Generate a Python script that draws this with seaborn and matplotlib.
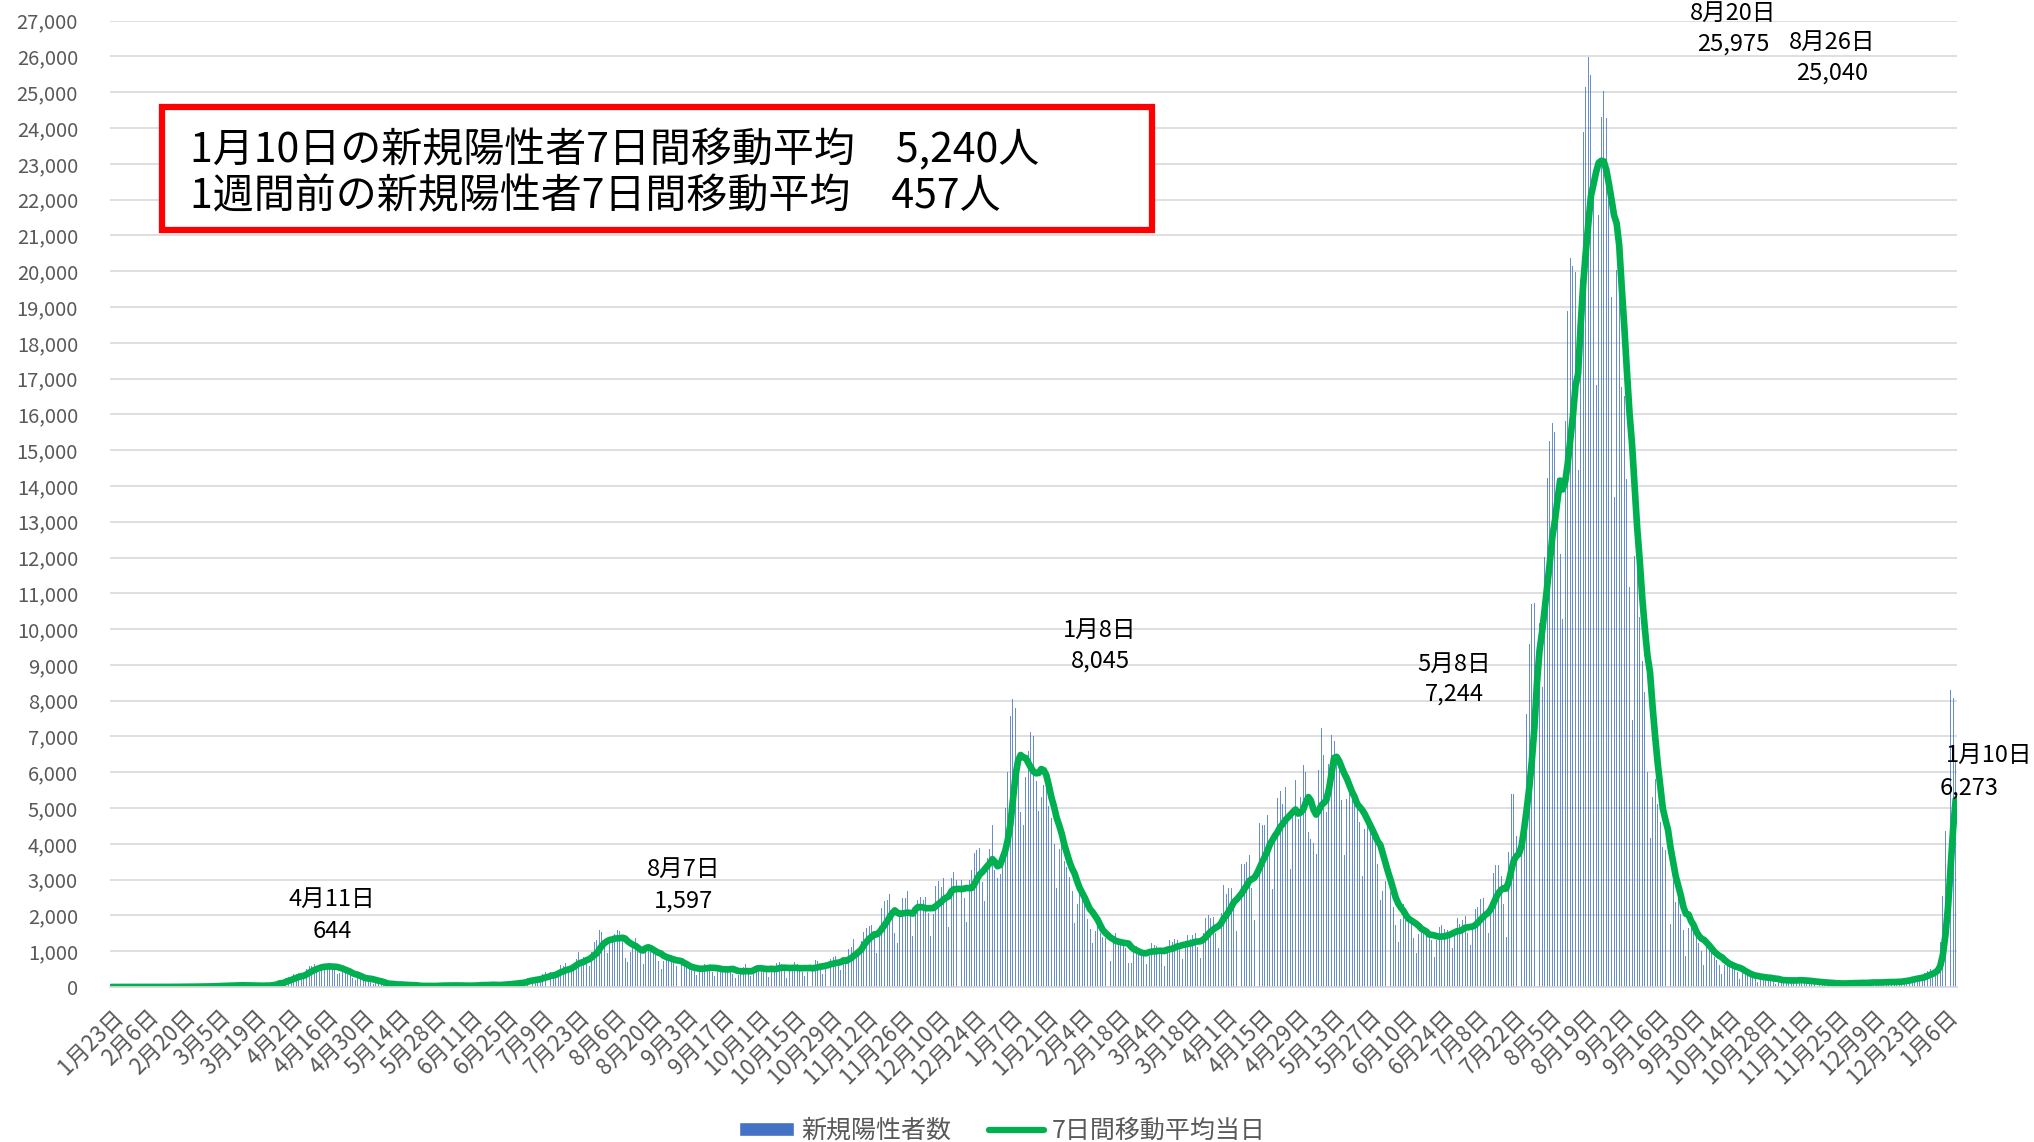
import numpy as np
import pandas as pd
import matplotlib
matplotlib.use("Agg")
import matplotlib.pyplot as plt
from matplotlib.patches import Patch, Rectangle
from matplotlib.lines import Line2D
from matplotlib.ticker import FuncFormatter, MultipleLocator
from matplotlib.transforms import ScaledTranslation
import seaborn as sns

# 全国の新規陽性者数（日別）2020/1/23 〜 2022/1/10
START = "2020-01-23"

jan20 = [0, 1, 0, 1, 0, 2, 1, 4, 2]
feb20 = [3, 0, 0, 2, 0, 0, 2, 0, 0, 1, 0, 0, 3, 8, 6, 7, 6, 7, 10, 12, 14, 9, 5, 3, 13, 16, 23, 21, 17]
mar20 = [14, 18, 16, 33, 31, 59, 43, 33, 26, 52, 54, 62, 40, 64, 21, 15, 44, 39, 36, 36, 43, 34, 38, 39, 65,
         96, 112, 200, 194, 78, 265]
apr20 = [266, 234, 351, 364, 380, 250, 357, 514, 577, 590, 644, 580, 420, 540, 600, 630, 620, 600, 560, 370,
         390, 450, 430, 440, 360, 250, 190, 270, 230, 200]
may20 = [220, 300, 200, 87, 123, 100, 95, 84, 106, 50, 69, 63, 55, 51, 99, 56, 32, 31, 33, 39, 33, 24, 24, 21,
         20, 43, 37, 30, 47, 46, 43]
jun20 = [33, 50, 45, 39, 47, 42, 38, 15, 41, 34, 40, 56, 45, 73, 71, 43, 41, 69, 71, 60, 57, 50, 54, 96, 105,
         105, 100, 110, 87, 130]
jul20 = [125, 196, 250, 274, 208, 180, 205, 205, 354, 430, 385, 408, 260, 330, 450, 622, 590, 661, 510, 419,
         631, 795, 981, 771, 839, 814, 598, 980, 1264, 1301, 1580]
aug20 = [1536, 1331, 958, 1236, 1356, 1485, 1597, 1568, 1442, 812, 702, 989, 1177, 1360, 1227, 1033, 640, 1168,
         1161, 1019, 1040, 933, 739, 495, 740, 923, 840, 889, 761, 574, 435]
sep20 = [626, 600, 594, 567, 530, 435, 331, 514, 600, 650, 620, 625, 420, 300, 470, 500, 547, 600, 590, 484,
         356, 248, 330, 480, 570, 640, 480, 310, 440, 608]
oct20 = [620, 560, 570, 420, 290, 500, 540, 660, 700, 650, 440, 260, 460, 560, 690, 650, 620, 430, 300, 430,
         620, 600, 750, 720, 560, 370, 530, 730, 790, 840, 870]
nov20 = [630, 480, 850, 640, 1050, 1110, 1330, 980, 940, 1280, 1540, 1660, 1700, 1730, 1440, 950, 1700, 2200,
         2390, 2420, 2590, 2170, 1520, 1240, 1950, 2500, 2500, 2680, 2060, 1430]
dec20 = [2030, 2430, 2510, 2440, 2510, 2060, 1430, 2050, 2810, 2970, 2790, 3040, 2390, 1680, 3040, 3210, 3000,
         2830, 2990, 2490, 1810, 2990, 3270, 3740, 3820, 3880, 2940, 2390, 3610, 3850, 4520]
jan21 = [3258, 3059, 3158, 3800, 5000, 6000, 7570, 8045, 7790, 6094, 4876, 4538, 5872, 6605, 7133, 7014, 5759,
         4925, 5320, 5650, 5624, 5044, 4716, 3990, 2764, 3850, 3960, 3530, 3340, 3060, 2670]
feb21 = [1790, 2320, 2630, 2570, 2370, 1900, 1630, 1220, 1570, 1880, 1520, 1410, 1360, 1170, 740, 1300, 1520,
         1380, 1300, 1240, 1100, 660, 670, 1080, 1150, 1070, 990, 1000]
mar21 = [640, 870, 1220, 1160, 1140, 1050, 990, 600, 1130, 1310, 1270, 1330, 1310, 1070, 780, 1220, 1460, 1340,
         1460, 1520, 1120, 820, 1520, 1920, 2000, 1920, 1950, 1500, 1100, 2060, 2850]
apr21 = [2600, 2760, 2760, 2480, 1570, 2650, 3450, 3440, 3490, 3700, 2780, 1880, 3450, 4570, 4530, 4530, 4800,
         4100, 2740, 4320, 5290, 5490, 5110, 5590, 4600, 3300, 4850, 5780, 4690, 5300]
may21 = [6200, 6000, 4330, 4140, 4020, 3730, 6050, 7244, 6480, 4890, 6240, 7050, 6860, 6260, 6420, 5220, 3690,
         5240, 5740, 5610, 5250, 5070, 4600, 3090, 4410, 4730, 4580, 4220, 4000, 3440, 2420]
jun21 = [2680, 2960, 2790, 2660, 2230, 1730, 1270, 1900, 2320, 1940, 1940, 1940, 1380, 940, 1480, 1770, 1670,
         1640, 1390, 1300, 850, 1320, 1670, 1720, 1620, 1600, 1440, 1080, 1550, 1920]
jul21 = [1750, 1880, 1980, 1500, 1170, 1640, 2190, 2240, 2450, 2480, 1990, 1500, 2380, 3190, 3420, 3420, 3100,
         2330, 1400, 3760, 5390, 5400, 4220, 3570, 3880, 4690, 7630, 9580, 10690, 10740, 12340]
aug21 = [10160, 8390, 12020, 14210, 15260, 15750, 15500, 14220, 12090, 10290, 15810, 18890, 20360, 20150, 19990,
         14450, 19770, 23900, 25150, 25975, 25490, 22260, 16830, 21580, 24320, 25040, 24270, 22750, 19290, 13690,
         20030]
sep21 = [20000, 16760, 16520, 14200, 11180, 7460, 12030, 11660, 10350, 9100, 8230, 6000, 4170, 5300, 5800, 5100,
         4600, 3900, 3830, 2220, 1760, 2980, 2380, 2690, 2040, 1580, 860, 1660, 1690, 1580]
oct21 = [1440, 1230, 1010, 620, 1140, 1130, 980, 830, 760, 610, 370, 620, 730, 620, 610, 510, 430, 230, 380, 390,
         340, 340, 290, 270, 150, 260, 320, 280, 250, 270, 160]
nov21 = [86, 220, 160, 200, 220, 230, 160, 100, 200, 220, 200, 180, 170, 130, 80, 120, 170, 150, 140, 120, 100,
         50, 70, 120, 120, 120, 110, 90, 80, 100]
dec21 = [130, 120, 140, 130, 110, 60, 130, 150, 160, 140, 140, 110, 90, 140, 180, 160, 150, 160, 130, 120, 220,
         260, 230, 280, 270, 240, 200, 320, 390, 450, 500]
jan22 = [460, 530, 549, 1260, 2540, 4350, 5900, 8290, 8070, 6273]

daily = (jan20 + feb20 + mar20 + apr20 + may20 + jun20 + jul20 + aug20 + sep20 + oct20 + nov20 + dec20
         + jan21 + feb21 + mar21 + apr21 + may21 + jun21 + jul21 + aug21 + sep21 + oct21 + nov21 + dec21
         + jan22)

series_names = ["新規陽性者数", "7日間移動平均当日"]
peak_dates = ["4月11日", "8月7日", "1月8日", "5月8日", "8月20日", "8月26日", "1月10日"]
peak_values = ["644", "1,597", "8,045", "7,244", "25,975", "25,040", "6,273"]

sns.set_theme(style="white")
plt.rcParams["font.family"] = ["Noto Sans CJK JP", "DejaVu Sans"]

df = pd.DataFrame({"date": pd.date_range(START, periods=len(daily)), "cases": daily})
df["day"] = np.arange(len(df))
df["ma7"] = df["cases"].rolling(7, min_periods=1).mean()

W, H = 2034, 1142
fig = plt.figure(figsize=(W / 100, H / 100), dpi=100)
ax = fig.add_axes([110 / W, 1 - 987 / H, (1957 - 110) / W, (987 - 20.7) / H])

sns.barplot(data=df, x="day", y="cases", native_scale=True, color="#4472C4", saturation=1,
            width=0.38, errorbar=None, linewidth=0, alpha=0.8, ax=ax)
sns.lineplot(data=df, x="day", y="ma7", color="#00B050", linewidth=4.8, ax=ax)

ax.set_xlim(-0.5, len(df) - 0.5)
ax.set_ylim(0, 27000)
ax.yaxis.set_major_locator(MultipleLocator(1000))
ax.yaxis.set_major_formatter(FuncFormatter(lambda v, p: f"{v:,.0f}"))
ax.grid(axis="y", color="#D9D9D9", linewidth=1.2)
ax.grid(axis="x", visible=False)
ax.set_axisbelow(True)

tick_rows = df.iloc[::14]
ax.set_xticks(tick_rows["day"])
ax.set_xticklabels([f"{d.month}月{d.day}日" for d in tick_rows["date"]], rotation=45, ha="right",
                   rotation_mode="anchor", fontsize=16, color="#595959")
shift = ScaledTranslation(-9 / 72, 0, fig.dpi_scale_trans)
for lab in ax.get_xticklabels():
    lab.set_transform(lab.get_transform() + shift)
ax.tick_params(axis="x", length=0, pad=13)
ax.tick_params(axis="y", length=0, pad=23, labelsize=14.5, labelcolor="#595959")
for s in ["top", "right", "left"]:
    ax.spines[s].set_visible(False)
ax.spines["bottom"].set_color("#D9D9D9")
ax.set_xlabel("")
ax.set_ylabel("")

# ピークのラベル（位置は手で調整）
label_pos = [(85.9, 85.9, 2460, 1560), (222.9, 222.9, 3290, 2400), (384.9, 384.9, 9960, 9100),
             (522.7, 522.7, 9010, 8180), (631.3, 631.3, 27210, 26350), (670.0, 670.0, 26380, 25540),
             (730.9, 723.1, 6470, 5550)]
for (x1, x2, y1, y2), d, v in zip(label_pos, peak_dates, peak_values):
    ax.text(x1, y1, d, ha="center", va="center", fontsize=17, color="black")
    ax.text(x2, y2, v, ha="center", va="center", fontsize=17, color="black")

# 赤枠のコメント
last = df.iloc[-1]
avg_now = df["ma7"].iloc[-1]
avg_prev = df["ma7"].iloc[-8]
fig.add_artist(Rectangle((162 / W, 1 - 230 / H), (1152 - 162) / W, (230 - 107) / H,
                         transform=fig.transFigure, facecolor="white", edgecolor="#FF0000",
                         linewidth=4.5, zorder=5))
fig.text(190 / W, 1 - 150 / H,
         f"{last['date'].month}月{last['date'].day}日の新規陽性者7日間移動平均　{avg_now:,.0f}人",
         fontsize=29.5, ha="left", va="center", color="black", zorder=6)
fig.text(190 / W, 1 - 197 / H, f"1週間前の新規陽性者7日間移動平均　{avg_prev:,.0f}人",
         fontsize=29.5, ha="left", va="center", color="black", zorder=6)

handles = [Patch(facecolor="#4472C4"), Line2D([], [], color="#00B050", linewidth=4.5)]
fig.legend(handles, series_names, loc="center", bbox_to_anchor=(1002 / W, 1 - 1131 / H), ncol=2,
           frameon=False, fontsize=18, labelcolor="#595959", handlelength=2.2, handleheight=0.5,
           handletextpad=0.3, columnspacing=1.5)

fig.savefig("out.png", dpi=100)
